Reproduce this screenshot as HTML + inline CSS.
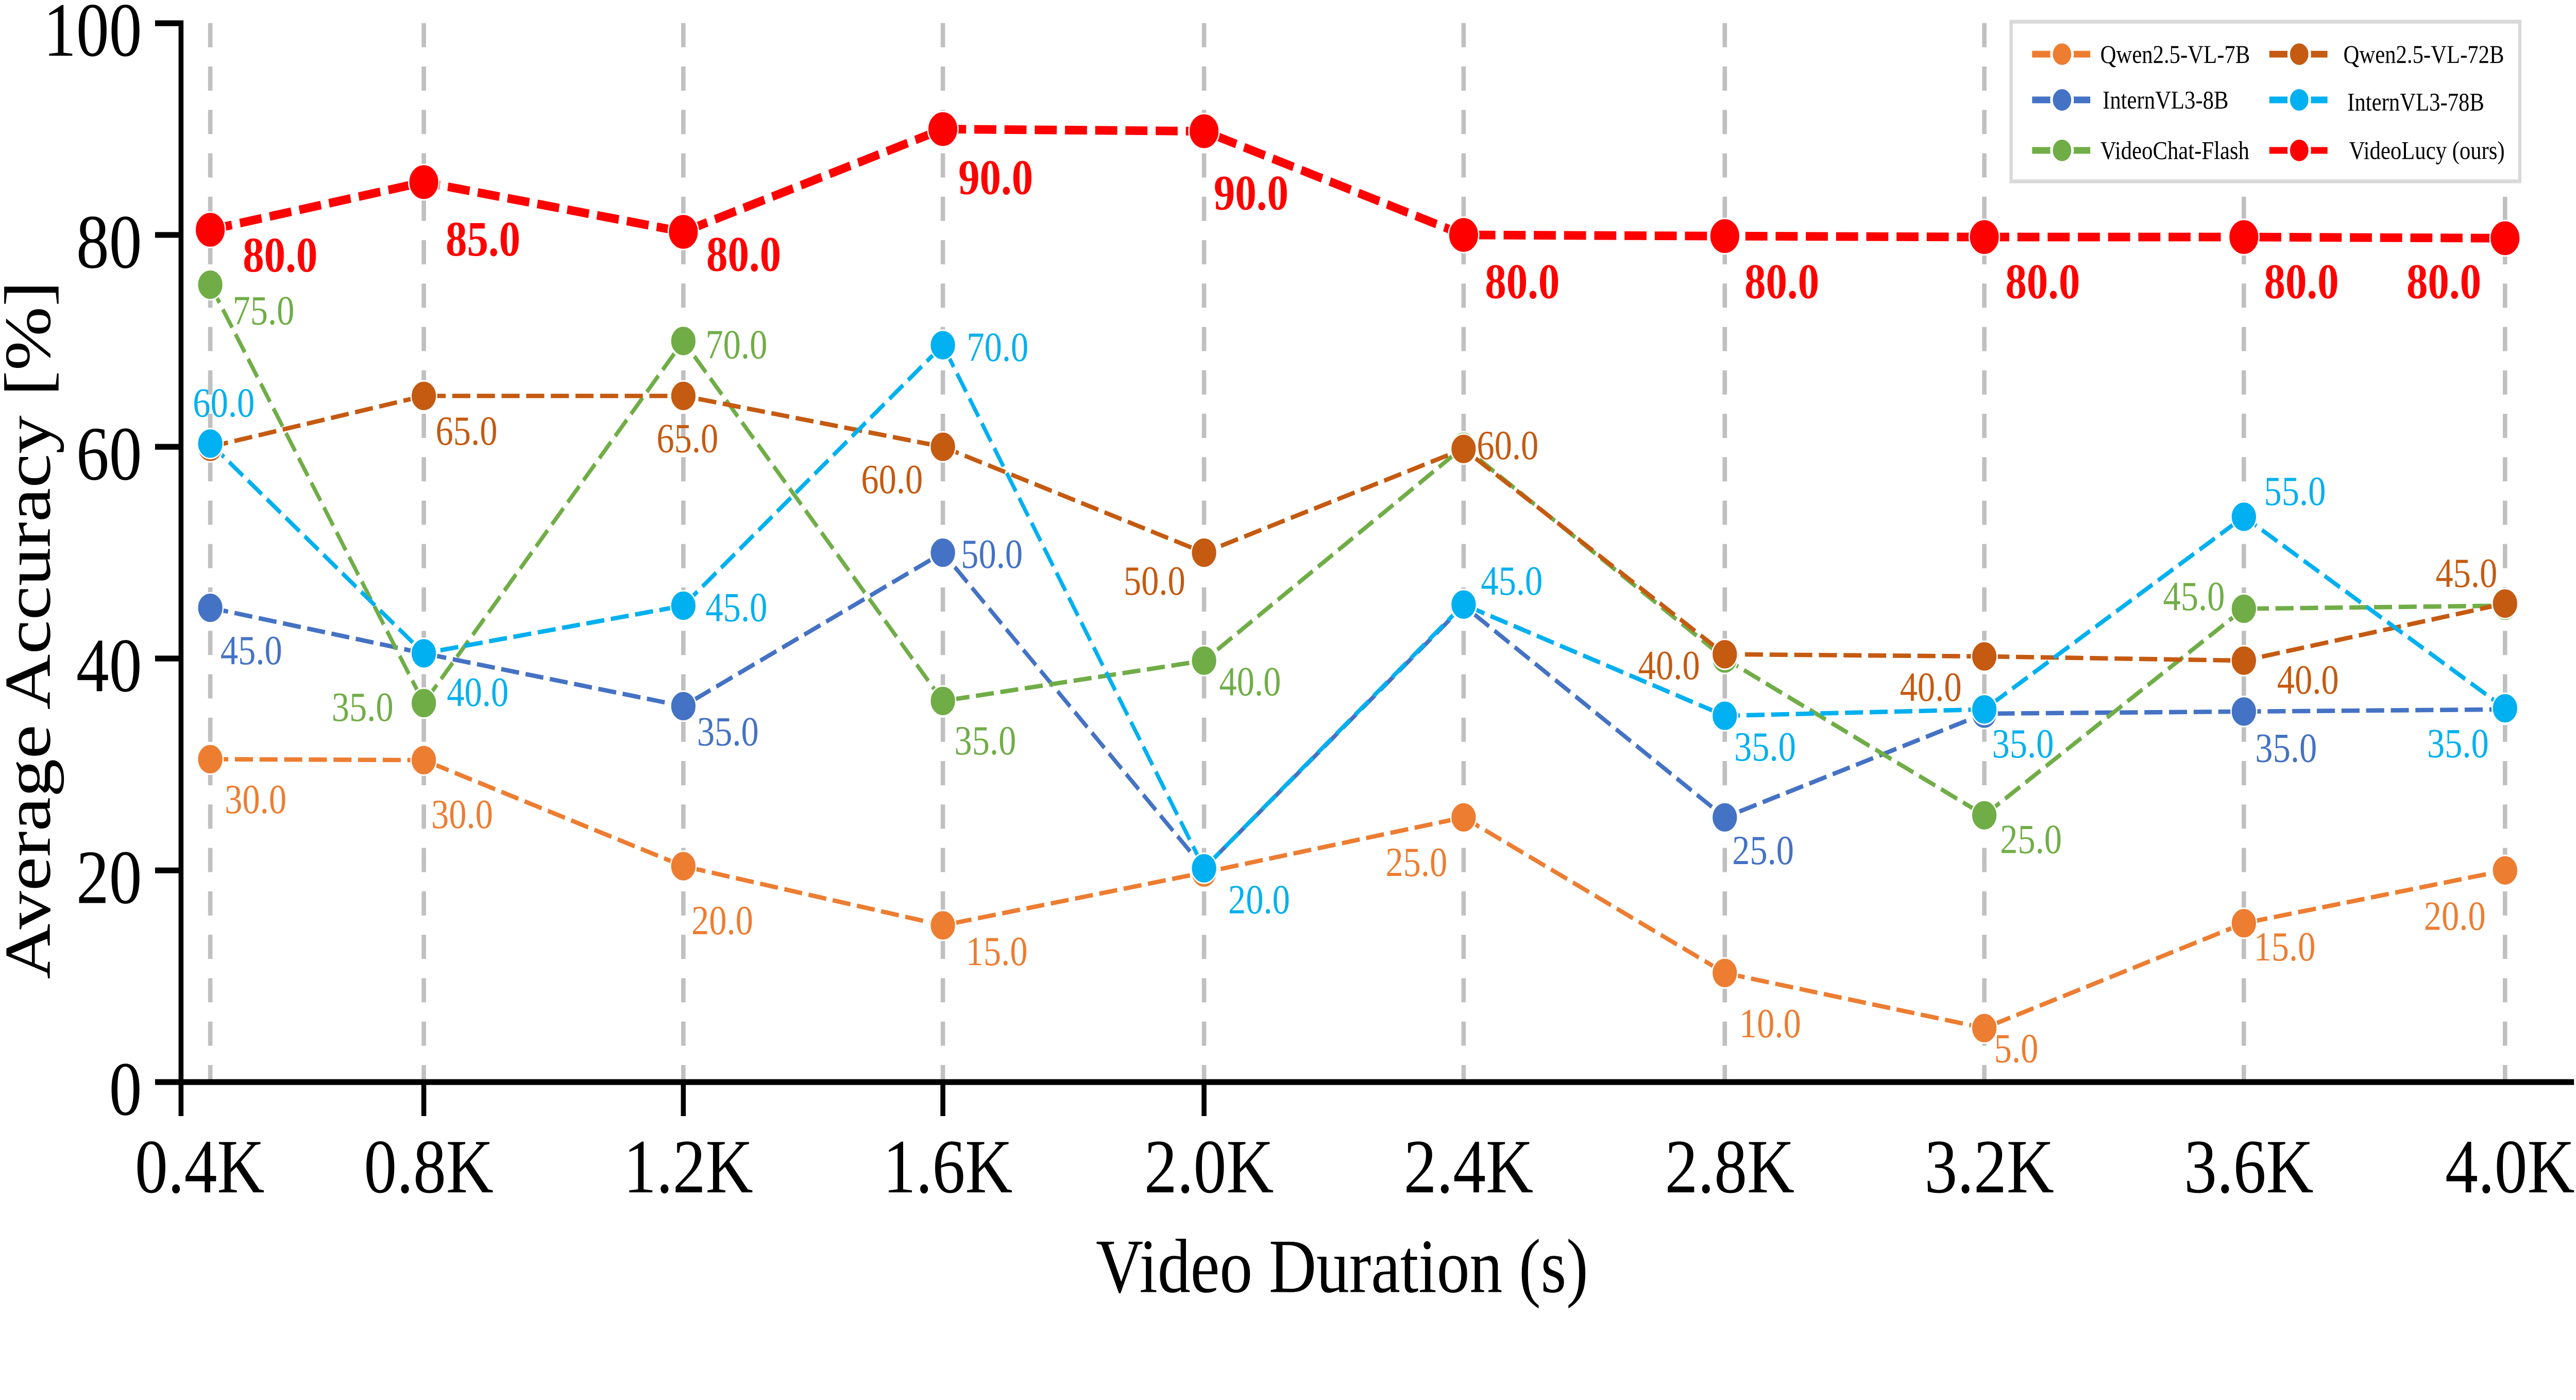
<!DOCTYPE html>
<html><head><meta charset="utf-8"><style>
html,body{margin:0;padding:0;background:#fff;width:100%;height:100%;overflow:hidden;}
svg{display:block;width:100vw;height:100vh;}
text{font-family:"Liberation Serif","Times New Roman",serif;}
</style></head><body>
<svg viewBox="0 0 1568.2 728.8" preserveAspectRatio="none" xmlns="http://www.w3.org/2000/svg">
<rect x="0" y="0" width="1568.2" height="728.8" fill="#fff"/>
<g>
<!-- grid -->
<g stroke="#c0c0c0" stroke-width="2.7" stroke-dasharray="12.6 10">
<line x1="128" y1="12" x2="128" y2="563"/>
<line x1="258" y1="12" x2="258" y2="563"/>
<line x1="416" y1="12" x2="416" y2="563"/>
<line x1="574" y1="12" x2="574" y2="563"/>
<line x1="733" y1="12" x2="733" y2="563"/>
<line x1="891" y1="12" x2="891" y2="563"/>
<line x1="1050" y1="12" x2="1050" y2="563"/>
<line x1="1208" y1="12" x2="1208" y2="563"/>
<line x1="1366" y1="12" x2="1366" y2="563"/>
<line x1="1525" y1="12" x2="1525" y2="563"/>
</g>
<!-- axes -->
<g stroke="#000" stroke-width="3">
<line x1="110.2" y1="10.6" x2="110.2" y2="581"/>
<line x1="108.7" y1="563.3" x2="1567" y2="563.3"/>
<line x1="94.4" y1="12.1" x2="110.2" y2="12.1"/>
<line x1="94.4" y1="122.3" x2="110.2" y2="122.3"/>
<line x1="94.4" y1="232.6" x2="110.2" y2="232.6"/>
<line x1="94.4" y1="342.8" x2="110.2" y2="342.8"/>
<line x1="94.4" y1="453.1" x2="110.2" y2="453.1"/>
<line x1="94.4" y1="563.3" x2="110.2" y2="563.3"/>
<line x1="258" y1="563" x2="258" y2="581"/>
<line x1="416" y1="563" x2="416" y2="581"/>
<line x1="574" y1="563" x2="574" y2="581"/>
<line x1="733" y1="563" x2="733" y2="581"/>
</g>
<g font-size="40" text-anchor="end" fill="#000">
<text x="86.4" y="29">100</text>
<text x="86.4" y="139.3">80</text>
<text x="86.4" y="249.6">60</text>
<text x="86.4" y="359.8">40</text>
<text x="86.4" y="470.1">20</text>
<text x="86.4" y="580.3">0</text>
</g>
<g font-size="40" text-anchor="middle" fill="#000">
<text x="121.6" y="620.7">0.4K</text>
<text x="261" y="620.7">0.8K</text>
<text x="419" y="620.7">1.2K</text>
<text x="577" y="620.7">1.6K</text>
<text x="736" y="620.7">2.0K</text>
<text x="894" y="620.7">2.4K</text>
<text x="1053" y="620.7">2.8K</text>
<text x="1211" y="620.7">3.2K</text>
<text x="1369" y="620.7">3.6K</text>
<text x="1528" y="620.7">4.0K</text>
</g>
<text x="817" y="672.6" font-size="40" text-anchor="middle">Video Duration (s)</text>
<text transform="translate(30.3,328) rotate(-90)" font-size="40" text-anchor="middle">Average Accuracy [%]</text>

<!-- series -->
<g fill="none" stroke-width="2.3" stroke-dasharray="11 4">
<polyline stroke="#ED7D31" points="128,395.2 258,395.7 416,450.9 574,481.7 733,454.2 891,425.5 1050,506.5 1208,535.2 1366,480.6 1525,453.1"/>
<polyline stroke="#4472C4" points="128,316.4 258,340.1 416,367.6 574,287.7 733,452 891,315.3 1050,425.5 1208,371.5 1366,370.4 1525,369.3"/>
<polyline stroke="#70AD47" points="128,148.2 258,366 416,177.5 574,364.9 733,343.9 891,232.6 1050,342.8 1208,424.4 1366,316.9 1525,315.3"/>
<polyline stroke="#C55A11" points="128,232.6 258,206.1 416,206.1 574,232.6 733,287.7 891,233.7 1050,340.6 1208,341.7 1366,343.9 1525,314.2"/>
<polyline stroke="#00B0F0" points="128,230.9 258,340.1 416,315.3 574,179.7 733,452 891,314.7 1050,372.6 1208,369.3 1366,269 1525,368.7"/>
</g>
<g stroke="#fff" stroke-width="0.8">
<g fill="#ED7D31"><circle cx="128" cy="395.2" r="7.8"/><circle cx="258" cy="395.7" r="7.8"/><circle cx="416" cy="450.9" r="7.8"/><circle cx="574" cy="481.7" r="7.8"/><circle cx="733" cy="454.2" r="7.8"/><circle cx="891" cy="425.5" r="7.8"/><circle cx="1050" cy="506.5" r="7.8"/><circle cx="1208" cy="535.2" r="7.8"/><circle cx="1366" cy="480.6" r="7.8"/><circle cx="1525" cy="453.1" r="7.8"/></g>
<g fill="#4472C4"><circle cx="128" cy="316.4" r="7.8"/><circle cx="258" cy="340.1" r="7.8"/><circle cx="416" cy="367.6" r="7.8"/><circle cx="574" cy="287.7" r="7.8"/><circle cx="733" cy="452" r="7.8"/><circle cx="891" cy="315.3" r="7.8"/><circle cx="1050" cy="425.5" r="7.8"/><circle cx="1208" cy="371.5" r="7.8"/><circle cx="1366" cy="370.4" r="7.8"/><circle cx="1525" cy="369.3" r="7.8"/></g>
<g fill="#70AD47"><circle cx="128" cy="148.2" r="7.8"/><circle cx="258" cy="366" r="7.8"/><circle cx="416" cy="177.5" r="7.8"/><circle cx="574" cy="364.9" r="7.8"/><circle cx="733" cy="343.9" r="7.8"/><circle cx="891" cy="232.6" r="7.8"/><circle cx="1050" cy="342.8" r="7.8"/><circle cx="1208" cy="424.4" r="7.8"/><circle cx="1366" cy="316.9" r="7.8"/><circle cx="1525" cy="315.3" r="7.8"/></g>
<g fill="#C55A11"><circle cx="128" cy="232.6" r="7.8"/><circle cx="258" cy="206.1" r="7.8"/><circle cx="416" cy="206.1" r="7.8"/><circle cx="574" cy="232.6" r="7.8"/><circle cx="733" cy="287.7" r="7.8"/><circle cx="891" cy="233.7" r="7.8"/><circle cx="1050" cy="340.6" r="7.8"/><circle cx="1208" cy="341.7" r="7.8"/><circle cx="1366" cy="343.9" r="7.8"/><circle cx="1525" cy="314.2" r="7.8"/></g>
<g fill="#00B0F0"><circle cx="128" cy="230.9" r="7.8"/><circle cx="258" cy="340.1" r="7.8"/><circle cx="416" cy="315.3" r="7.8"/><circle cx="574" cy="179.7" r="7.8"/><circle cx="733" cy="452" r="7.8"/><circle cx="891" cy="314.7" r="7.8"/><circle cx="1050" cy="372.6" r="7.8"/><circle cx="1208" cy="369.3" r="7.8"/><circle cx="1366" cy="269" r="7.8"/><circle cx="1525" cy="368.7" r="7.8"/></g>
</g>
<polyline fill="none" stroke="#FF0000" stroke-width="4.5" stroke-dasharray="13.4 5" points="128,119.6 258,94.8 416,120.7 574,67.2 733,68.3 891,122.3 1050,122.9 1208,123.4 1366,123.4 1525,124"/>
<g fill="#FF0000" stroke="#fff" stroke-width="0.8"><circle cx="128" cy="119.6" r="9.2"/><circle cx="258" cy="94.8" r="9.2"/><circle cx="416" cy="120.7" r="9.2"/><circle cx="574" cy="67.2" r="9.2"/><circle cx="733" cy="68.3" r="9.2"/><circle cx="891" cy="122.3" r="9.2"/><circle cx="1050" cy="122.9" r="9.2"/><circle cx="1208" cy="123.4" r="9.2"/><circle cx="1366" cy="123.4" r="9.2"/><circle cx="1525" cy="124" r="9.2"/></g>

<!-- labels -->
<g font-size="26" font-weight="bold" fill="#FF0000">
<text x="147.8" y="141.3">80.0</text>
<text x="271.3" y="133.1">85.0</text>
<text x="430" y="141">80.0</text>
<text x="583.4" y="101">90.0</text>
<text x="738.9" y="109.1">90.0</text>
<text x="904" y="155.2">80.0</text>
<text x="1062" y="155.2">80.0</text>
<text x="1220.8" y="155.2">80.0</text>
<text x="1378.3" y="155.2">80.0</text>
<text x="1465" y="155.2">80.0</text>
</g>
<g font-size="21.5" fill="#70AD47">
<text x="141.6" y="168.8">75.0</text>
<text x="201.9" y="375.3">35.0</text>
<text x="429.5" y="186.6">70.0</text>
<text x="581" y="392.7">35.0</text>
<text x="742.2" y="362">40.0</text>
<text x="1217.6" y="444.1">25.0</text>
<text x="1316.8" y="317.6">45.0</text>
</g>
<g font-size="21.5" fill="#C55A11">
<text x="265.2" y="231.5">65.0</text>
<text x="399.7" y="235.4">65.0</text>
<text x="524.2" y="256.7">60.0</text>
<text x="684" y="309.5">50.0</text>
<text x="899" y="239">60.0</text>
<text x="997.3" y="353.6">40.0</text>
<text x="1156.6" y="364.8">40.0</text>
<text x="1386.2" y="361">40.0</text>
<text x="1482.7" y="305.5">45.0</text>
</g>
<g font-size="21.5" fill="#00B0F0">
<text x="117.4" y="216.9">60.0</text>
<text x="272" y="367.5">40.0</text>
<text x="429.5" y="323.4">45.0</text>
<text x="588.5" y="187.9">70.0</text>
<text x="747.7" y="475.4">20.0</text>
<text x="901.5" y="309.5">45.0</text>
<text x="1055.7" y="395.9">35.0</text>
<text x="1212.7" y="394.3">35.0</text>
<text x="1378.3" y="262.9">55.0</text>
<text x="1477.5" y="394.2">35.0</text>
</g>
<g font-size="21.5" fill="#4472C4">
<text x="134.2" y="345.8">45.0</text>
<text x="424.3" y="388">35.0</text>
<text x="585" y="295.6">50.0</text>
<text x="1054.5" y="449.8">25.0</text>
<text x="1372.9" y="396.6">35.0</text>
</g>
<g font-size="21.5" fill="#ED7D31">
<text x="136.8" y="423.3">30.0</text>
<text x="262.5" y="431">30.0</text>
<text x="420.9" y="486.3">20.0</text>
<text x="588" y="502.4">15.0</text>
<text x="843.5" y="456">25.0</text>
<text x="1058.8" y="540">10.0</text>
<text x="1214" y="553">5.0</text>
<text x="1372" y="500">15.0</text>
<text x="1475.6" y="484">20.0</text>
</g>

<!-- legend -->
<rect x="1224.3" y="11.3" width="309.7" height="83.1" fill="#fff" stroke="#d9d9d9" stroke-width="2"/>
<g stroke-width="3.5">
<line x1="1237.1" y1="28.2" x2="1272.5" y2="28.2" stroke="#ED7D31"/>
<line x1="1381.5" y1="28.2" x2="1416.9" y2="28.2" stroke="#C55A11"/>
<line x1="1237.1" y1="52" x2="1272.5" y2="52" stroke="#4472C4"/>
<line x1="1381.5" y1="52" x2="1416.9" y2="52" stroke="#00B0F0"/>
<line x1="1237.1" y1="78.3" x2="1272.5" y2="78.3" stroke="#70AD47"/>
<line x1="1381.5" y1="78.3" x2="1416.9" y2="78.3" stroke="#FF0000"/>
</g>
<g stroke="#fff" stroke-width="1.6">
<circle cx="1255.3" cy="28.2" r="6.4" fill="#ED7D31"/>
<circle cx="1399.7" cy="28.2" r="6.4" fill="#C55A11"/>
<circle cx="1255.3" cy="52" r="6.4" fill="#4472C4"/>
<circle cx="1399.7" cy="52" r="6.4" fill="#00B0F0"/>
<circle cx="1255.3" cy="78.3" r="6.4" fill="#70AD47"/>
<circle cx="1399.7" cy="78.3" r="6.4" fill="#FF0000"/>
</g>
<g font-size="13.4" fill="#000">
<text x="1278.6" y="32.7">Qwen2.5-VL-7B</text>
<text x="1426.6" y="32.7">Qwen2.5-VL-72B</text>
<text x="1280" y="56.5">InternVL3-8B</text>
<text x="1429" y="57.5">InternVL3-78B</text>
<text x="1278.6" y="82.8">VideoChat-Flash</text>
<text x="1430" y="82.8">VideoLucy (ours)</text>
</g>
</g>
</svg>
</body></html>
